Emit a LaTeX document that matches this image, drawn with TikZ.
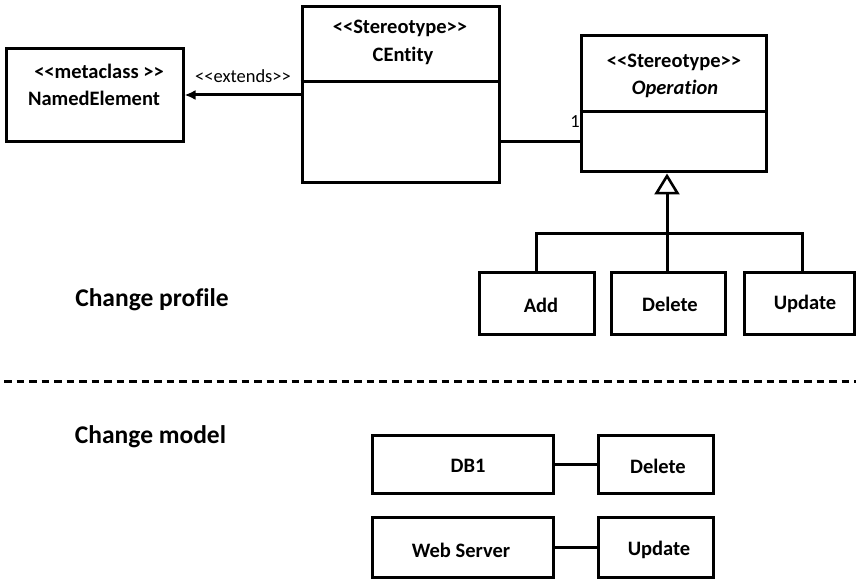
\documentclass[tikz,border=0pt]{standalone}
\usepackage{fontspec}
\setmainfont{Carlito}[Ligatures=NoCommon]
\usetikzlibrary{arrows.meta}

\tikzset{
  box/.style={draw, line width=3pt, inner sep=0pt, rectangle},
  lbl/.style={inner sep=0pt, font=\bfseries\fontsize{20.5}{24}\selectfont},
  head/.style={inner sep=0pt, font=\bfseries\fontsize{25.5}{30}\selectfont},
  small/.style={inner sep=0pt, font=\fontsize{18.5}{22}\selectfont},
  wire/.style={line width=3pt},
}

\begin{document}
\begin{tikzpicture}[x=1pt,y=-1pt]
\useasboundingbox (0,0) rectangle (856,580);

% profile classes
\node[box, minimum width=177pt, minimum height=93pt] (named) at (94.5,95.5) {};
\node[lbl] (namedst) at (99,71) {<{}<metaclass >{}>};
\node[lbl] (namednm) at (94,98) {NamedElement};

\node[box, minimum width=197pt, minimum height=176pt] (cent) at (400.5,95) {};
\draw[wire] (cent.west |- 0,82) -- (cent.east |- 0,82);
\node[lbl] (centst) at (400,28) {<{}<Stereotype>{}>};
\node[lbl] (centnm) at (403,56) {CEntity};

\node[box, minimum width=185pt, minimum height=136pt] (op) at (673.5,104) {};
\draw[wire] (op.west |- 0,112) -- (op.east |- 0,112);
\node[lbl] (opst) at (674,62) {<{}<Stereotype>{}>};
\node[lbl] (opnm) at (675,89) {\itshape Operation};

% extension
\draw[wire, -{Latex[length=11pt,width=10pt]}] (cent.west) -- (named.east |- cent.west);
\node[small] (ext) at (243,76) {<{}<extends>{}>};

% association
\coordinate (asA) at (cent.east |- 0,142);
\coordinate (asB) at (op.west |- 0,142);
\draw[wire] (asA) -- (asB);
\node[small] (mult) at (575,122) {1};

% operation kinds
\node[box, minimum width=115pt, minimum height=62pt] (add) at (536.5,303) {};
\node[lbl] (addt) at (541,305) {Add};
\node[box, minimum width=114pt, minimum height=62pt] (del) at (668,303) {};
\node[lbl] (delt) at (670,304) {Delete};
\node[box, minimum width=110pt, minimum height=62pt] (upd) at (799,303) {};
\node[lbl] (updt) at (805,304) {Update};

% generalization
\coordinate (gen) at (667,233);
\coordinate (updup) at (802,233);
\draw[wire, -{Triangle[open, length=21pt, width=25pt, line width=2.6pt]}] (gen) -- (gen |- op.south);
\draw[wire] (add.north) -- (add.north |- gen) -- (updup) -- (updup |- upd.north);
\draw[wire] (del.north -| gen) -- (gen);

\node[head] (prof) at (152,300) {Change profile};

% separator
\coordinate (sepL) at (4,381);
\coordinate (sepR) at (856,381);
\draw[line width=3pt, dash pattern=on 7.5pt off 5pt] (sepL) -- (sepR);

\node[head] (model) at (150.5,437) {Change model};

% model instances
\node[box, minimum width=181pt, minimum height=58pt] (db) at (462.5,464) {};
\node[lbl] (dbt) at (468,466) {DB1};
\node[box, minimum width=115pt, minimum height=58pt] (mdel) at (655.5,464) {};
\node[lbl] (mdelt) at (658,466) {Delete};
\draw[wire] (db.east) -- (mdel.west);

\node[box, minimum width=181pt, minimum height=60pt] (web) at (462.5,547.5) {};
\node[lbl] (webt) at (461,550) {Web Server};
\node[box, minimum width=115pt, minimum height=60pt] (mupd) at (655.5,547.5) {};
\node[lbl] (mupdt) at (659,550) {Update};
\draw[wire] (web.east |- 0,547) -- (mupd.west |- 0,547);

\end{tikzpicture}
\end{document}
